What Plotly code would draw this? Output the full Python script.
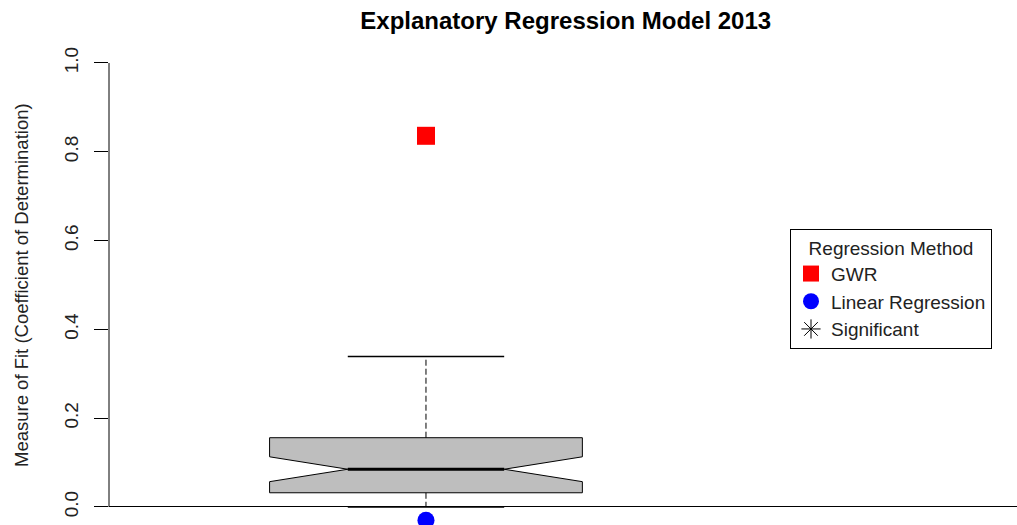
import plotly.graph_objects as go

# ---- data ----
box_position = [1]
whisker_low = [0.0]
quartile_1 = [0.032]
median_val = [0.085]
quartile_3 = [0.156]
whisker_high = [0.339]
notch_half_span = [0.028]

method_names = ["GWR", "Linear Regression", "Significant"]
method_values = [0.836, -0.03, None]
method_colors = ["red", "blue", "black"]
method_symbols = ["square", "circle", "asterisk-open"]

y_tick_values = [0.0, 0.2, 0.4, 0.6, 0.8, 1.0]
y_tick_labels = ["0.0", "0.2", "0.4", "0.6", "0.8", "1.0"]

title_text = "Explanatory Regression Model 2013"
y_title_text = "Measure of Fit (Coefficient of Determination)"
legend_title = "Regression Method"

FONT = "Arial, 'Liberation Sans', sans-serif"
BOX_W = 0.8
CAP_W = 0.4

fig = go.Figure()

# notched box
fig.add_trace(go.Box(
    x=box_position, q1=quartile_1, median=median_val, q3=quartile_3,
    lowerfence=quartile_1, upperfence=quartile_3, notchspan=notch_half_span,
    notched=True, notchwidth=0.25, width=BOX_W, whiskerwidth=0,
    fillcolor="rgb(190,190,190)", line=dict(color="black", width=1),
    boxpoints=False, showlegend=False, hoverinfo="skip",
))

xc = box_position[0]
# dashed whiskers
for a, b in [(quartile_3[0], whisker_high[0]), (quartile_1[0], whisker_low[0])]:
    fig.add_trace(go.Scatter(x=[xc, xc], y=[a, b], mode="lines",
                             line=dict(color="black", width=1, dash="6px,3px"),
                             showlegend=False, hoverinfo="skip"))
# caps
for v in [whisker_high[0], whisker_low[0]]:
    fig.add_trace(go.Scatter(x=[xc - CAP_W / 2, xc + CAP_W / 2], y=[v, v], mode="lines",
                             line=dict(color="black", width=1.5),
                             showlegend=False, hoverinfo="skip"))
# thick median
fig.add_trace(go.Scatter(x=[xc - CAP_W / 2, xc + CAP_W / 2], y=[median_val[0]] * 2,
                         mode="lines", line=dict(color="black", width=3),
                         showlegend=False, hoverinfo="skip"))

# method points
sizes = [18, 17, 16]
for name, val, col, sym, sz in zip(method_names, method_values, method_colors, method_symbols, sizes):
    if val is None:
        xs, ys = [None], [None]
    else:
        xs, ys = [xc], [val]
    fig.add_trace(go.Scatter(
        x=xs, y=ys, mode="markers", name=name,
        marker=dict(color=col, symbol=sym, size=sz,
                    line=dict(color=col, width=1 if sym == "asterisk-open" else 0)),
    ))

# y axis line from 0 to 1 (R style)
fig.add_shape(type="line", xref="paper", yref="y", x0=0, x1=0,
              y0=y_tick_values[0], y1=y_tick_values[-1],
              line=dict(color="black", width=1))

fig.add_annotation(text=y_title_text, xref="paper", yref="y",
                   x=-0.0958, y=0.5, xanchor="center", yanchor="middle",
                   textangle=-90, showarrow=False,
                   font=dict(family=FONT, size=18.5, color="#222"))

fig.update_layout(
    width=1017, height=525,
    margin=dict(l=109, r=0, t=30, b=0),
    paper_bgcolor="white", plot_bgcolor="white",
    title=dict(text="<b>" + title_text + "</b>", x=0.503, xref="paper",
               xanchor="center", y=1 - 21 / 525, yref="container", yanchor="middle",
               font=dict(family=FONT, size=24, color="black")),
    xaxis=dict(range=[0.1893, 2.5116], visible=False, showgrid=False, zeroline=False),
    yaxis=dict(range=[-0.0406, 1.0743], showgrid=False, showline=False,
               zeroline=True, zerolinecolor="black", zerolinewidth=1,
               tickmode="array", tickvals=y_tick_values, ticktext=y_tick_labels,
               ticks="outside", ticklen=14, tickcolor="black", tickwidth=1,
               ticklabelstandoff=8,
               tickangle=-90, tickfont=dict(family=FONT, size=19, color="#222")),
    legend=dict(
        title=dict(text=legend_title, side="top center",
                   font=dict(family=FONT, size=19, color="#222")),
        x=(790 - 109) / 908, y=(525 - 229) / 495, xanchor="left", yanchor="top",
        bordercolor="black", borderwidth=1, bgcolor="white",
        font=dict(family=FONT, size=19, color="#222"),
        tracegroupgap=0, itemwidth=30,
    ),
    font=dict(family=FONT),
)

fig.write_html("out.html")
